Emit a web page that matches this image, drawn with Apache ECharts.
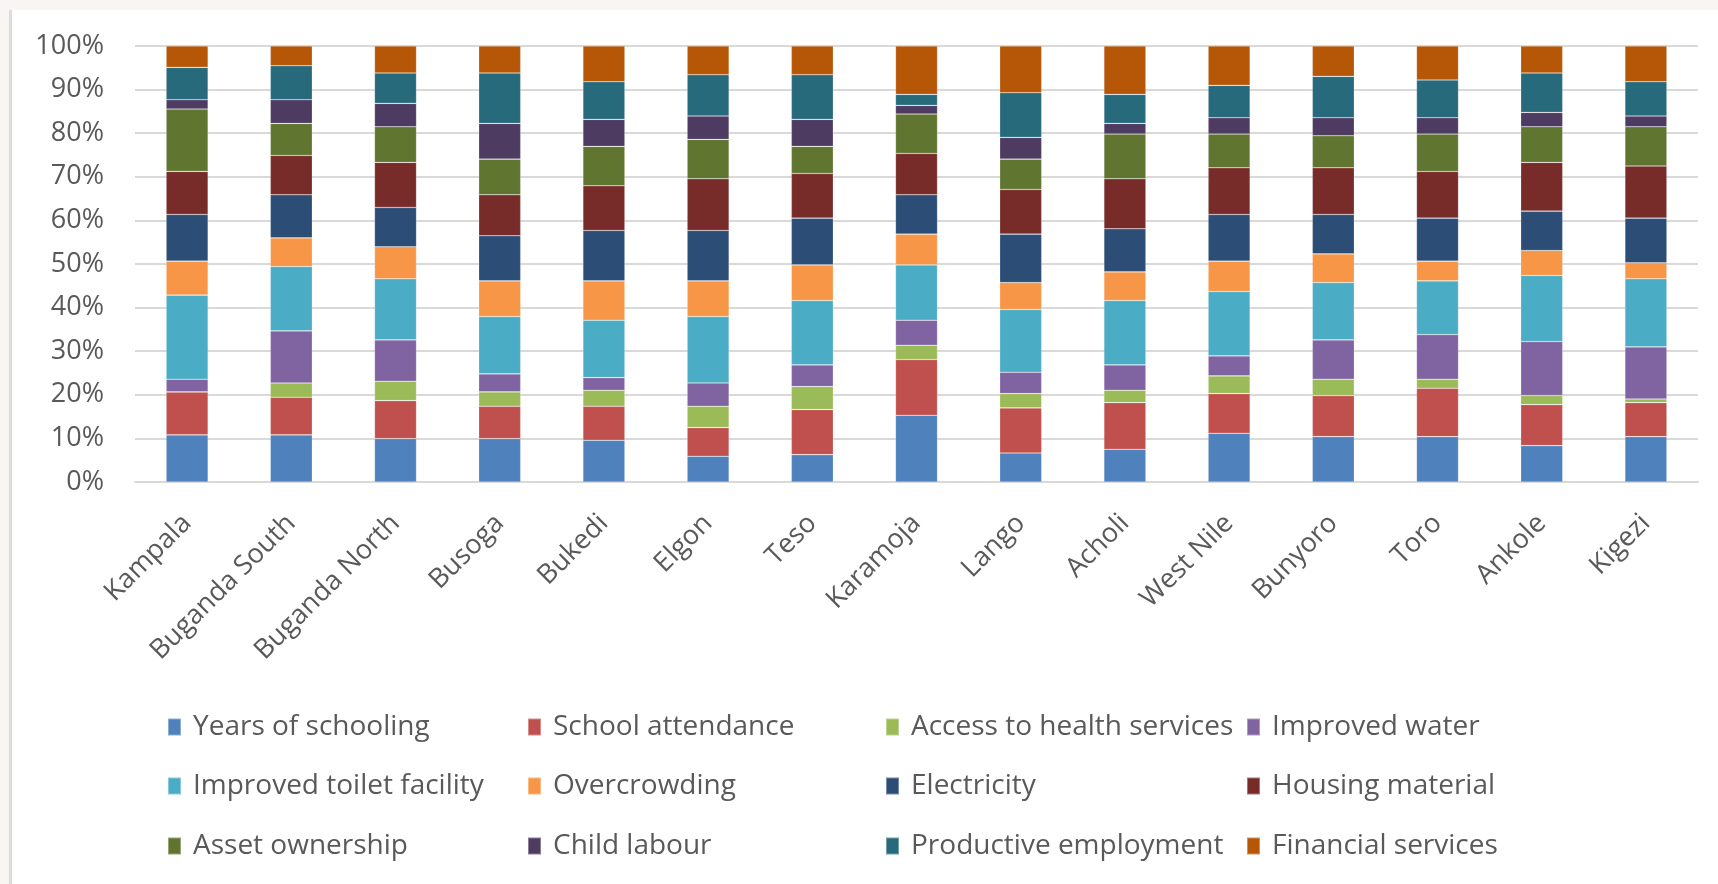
<!DOCTYPE html>
<html>
<head>
<meta charset="utf-8">
<title>Deprivation contributions by sub-region</title>
<script src="https://cdn.jsdelivr.net/npm/echarts@6/dist/echarts.min.js"></script>
<style>
  html, body { margin: 0; padding: 0; background: #ffffff; }
  #chart { width: 1718px; height: 884px; }
</style>
</head>
<body>
<div id="chart"></div>
<script>
// Sub-regions along the x axis
const regions = ['Kampala', 'Buganda South', 'Buganda North', 'Busoga', 'Bukedi', 'Elgon', 'Teso',
  'Karamoja', 'Lango', 'Acholi', 'West Nile', 'Bunyoro', 'Toro', 'Ankole', 'Kigezi'];

// Percentage contribution of each indicator, one value per sub-region
const yearsOfSchooling   = [10.8, 10.8, 9.95, 9.95, 9.56, 5.89, 6.27, 15.3, 6.66, 7.5, 11.17, 10.41, 10.41, 8.34, 10.41];
const schoolAttendance   = [9.86, 8.63, 8.72, 7.42, 7.81, 6.58, 10.33, 12.78, 10.33, 10.71, 9.11, 9.41, 11.09, 9.41, 7.8];
const healthServices     = [0, 3.29, 4.43, 3.29, 3.67, 4.9, 5.28, 3.29, 3.29, 2.83, 4.05, 3.75, 2.07, 2.07, 0.84];
const improvedWater      = [2.9, 11.94, 9.5, 4.13, 2.91, 5.35, 4.98, 5.73, 4.89, 5.82, 4.59, 9.02, 10.25, 12.39, 11.94];
const toiletFacility     = [19.3, 14.77, 14.0, 13.16, 13.15, 15.23, 14.76, 12.71, 14.39, 14.76, 14.77, 13.16, 12.32, 15.15, 15.61];
const overcrowding       = [7.8, 6.57, 7.34, 8.19, 9.04, 8.19, 8.19, 7.04, 6.19, 6.58, 6.96, 6.58, 4.51, 5.74, 3.67];
const electricity        = [10.7, 9.88, 9.03, 10.33, 11.55, 11.55, 10.71, 9.03, 11.1, 9.87, 10.71, 9.03, 9.87, 9.03, 10.25];
const housingMaterial    = [9.87, 9.02, 10.33, 9.41, 10.25, 11.86, 10.25, 9.48, 10.25, 11.48, 10.71, 10.71, 10.71, 11.17, 11.94];
const assetOwnership     = [14.3, 7.35, 8.18, 8.18, 9.03, 9.03, 6.2, 9.03, 6.96, 10.25, 7.73, 7.35, 8.57, 8.18, 9.02];
const childLabour        = [2.14, 5.43, 5.36, 8.19, 6.2, 5.35, 6.2, 1.99, 4.98, 2.45, 3.75, 4.13, 3.75, 3.29, 2.45];
const productiveEmploy   = [7.42, 7.8, 6.96, 11.55, 8.63, 9.49, 10.25, 2.52, 10.25, 6.65, 7.42, 9.49, 8.65, 9.03, 7.88];
const financialServices  = [4.9, 4.52, 6.2, 6.2, 8.2, 6.58, 6.58, 11.1, 10.71, 11.1, 9.03, 6.96, 7.8, 6.2, 8.19];

// Y axis tick labels (percent of total)
const percentTicks = ['0%', '10%', '20%', '30%', '40%', '50%', '60%', '70%', '80%', '90%', '100%'];

const seriesNames = ['Years of schooling', 'School attendance', 'Access to health services', 'Improved water',
  'Improved toilet facility', 'Overcrowding', 'Electricity', 'Housing material',
  'Asset ownership', 'Child labour', 'Productive employment', 'Financial services'];
const seriesValues = [yearsOfSchooling, schoolAttendance, healthServices, improvedWater,
  toiletFacility, overcrowding, electricity, housingMaterial,
  assetOwnership, childLabour, productiveEmploy, financialServices];
const seriesColors = ['#4F81BD', '#C0504D', '#9BBB59', '#8064A2', '#4BACC6', '#F79646',
  '#2C4D75', '#772C2A', '#5F7530', '#4D3B62', '#276A7C', '#B65708'];

// 100% stacked: each column is scaled so its parts add up to 100
const totals = regions.map((_, i) => seriesValues.reduce((s, arr) => s + arr[i], 0));
const shares = seriesValues.map(arr => arr.map((v, i) => v / totals[i] * 100));

const FONT = '"Open Sans", "Noto Sans", sans-serif';
const TEXT_GREY = '#595959';

const series = seriesNames.map((name, k) => ({
  name: name,
  type: 'bar',
  stack: 'total',
  barWidth: 42,
  itemStyle: { color: seriesColors[k], borderColor: 'rgba(255,255,255,0.35)', borderWidth: 0.6 },
  emphasis: { disabled: true },
  data: shares[k]
}));

// Legend laid out as a 4 x 3 grid, one legend block per entry
const legendCols = [167, 527, 885, 1246];
const legendRows = [713, 772, 832];
const legends = seriesNames.map((name, k) => ({
  data: [name],
  left: legendCols[k % 4],
  top: legendRows[Math.floor(k / 4)],
  icon: 'rect',
  itemWidth: 13,
  itemHeight: 17,
  itemGap: 0,
  padding: 0,
  selectedMode: true,
  textStyle: { fontFamily: FONT, fontSize: 28, color: TEXT_GREY, padding: [0, 0, 0, 7] }
}));

const chart = echarts.init(document.getElementById('chart'), null, { renderer: 'canvas' });
chart.setOption({
  animation: false,
  backgroundColor: '#ffffff',
  graphic: [
    { type: 'rect', left: 0, top: 0, shape: { width: 1718, height: 10 }, style: { fill: '#f8f5f2' }, silent: true },
    { type: 'rect', left: 0, top: 0, shape: { width: 9, height: 884 }, style: { fill: '#f8f5f2' }, silent: true },
    { type: 'rect', left: 9, top: 10, shape: { width: 3, height: 874 }, style: { fill: '#dcdcdc' }, silent: true }
  ],
  grid: { left: 135, right: 20, top: 46, bottom: 402, containLabel: false },
  legend: legends,
  xAxis: {
    type: 'category',
    data: regions,
    axisLine: { show: true, lineStyle: { color: '#d9d9d9', width: 2 } },
    axisTick: { show: false },
    axisLabel: { rotate: 45, margin: 37, interval: 0, fontFamily: FONT, fontSize: 27, color: TEXT_GREY }
  },
  yAxis: {
    type: 'value',
    min: 0,
    max: 100,
    interval: 10,
    axisLine: { show: false },
    axisTick: { show: false },
    splitLine: { lineStyle: { color: '#d9d9d9', width: 2 } },
    axisLabel: {
      margin: 31,
      fontFamily: FONT,
      fontSize: 27,
      color: TEXT_GREY,
      formatter: v => percentTicks[Math.round(v / 10)]
    }
  },
  series: series
});
</script>
</body>
</html>
